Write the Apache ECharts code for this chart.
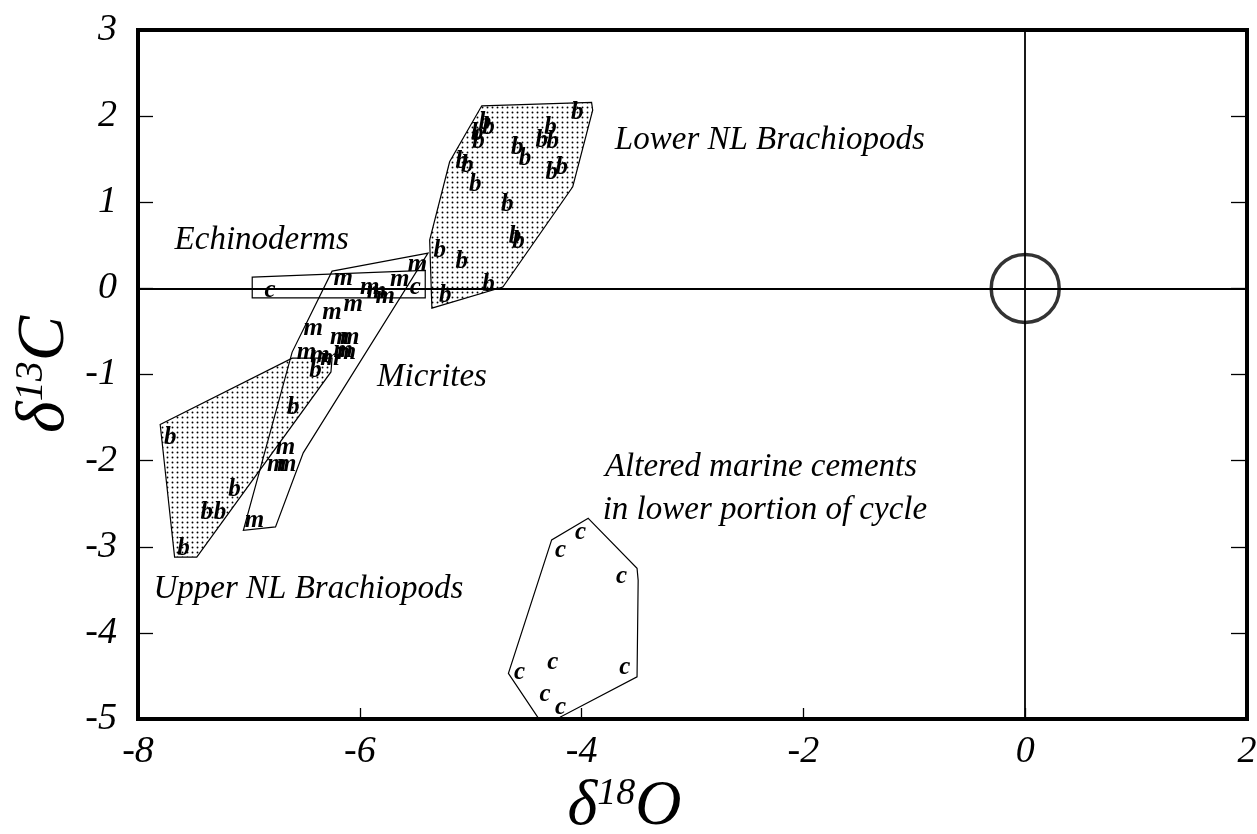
<!DOCTYPE html>
<html>
<head>
<meta charset="utf-8">
<script src="https://cdn.jsdelivr.net/npm/echarts@6/dist/echarts.min.js"></script>
<style>
html,body{margin:0;padding:0;background:#fff;}
#chart{width:1257px;height:834px;}
</style>
</head>
<body>
<div id="chart"></div>
<script>
// ---- axis ticks ----
const xTicks = [-8, -6, -4, -2, 0, 2];
const yTicks = [-5, -4, -3, -2, -1, 0, 1, 2, 3];

// ---- field polygons (δ18O, δ13C) ----
const upperBrachPoly = [[-7.80,-1.58],[-6.61,-0.81],[-6.25,-0.81],[-6.26,-0.97],[-7.47,-3.12],[-7.67,-3.12]];
const lowerBrachPoly = [[-4.90,2.12],[-3.91,2.16],[-3.90,2.07],[-4.08,1.18],[-4.71,0.015],[-5.35,-0.23],[-5.37,0.56],[-5.19,1.47]];
const micritePoly = [[-6.25,0.20],[-5.385,0.41],[-6.51,-1.91],[-6.76,-2.77],[-7.05,-2.81],[-6.61,-0.74]];
const echinoPoly = [[-6.97,0.13],[-5.41,0.21],[-5.41,-0.11],[-6.97,-0.11]];
const cementPoly = [[-3.94,-2.67],[-3.50,-3.25],[-3.49,-3.39],[-3.50,-4.51],[-4.195,-4.98],[-4.39,-4.99],[-4.66,-4.47],[-4.27,-2.92]];

// ---- samples (δ18O, δ13C) ----
const upperBrachPts = [[-7.71,-1.73],[-6.40,-0.95],[-6.60,-1.38],[-7.13,-2.34],[-7.38,-2.60],[-7.26,-2.60],[-7.59,-3.02]];
const lowerBrachPts = [[-4.04,2.04],[-4.28,1.87],[-4.36,1.72],[-4.26,1.70],[-4.58,1.63],[-4.51,1.51],[-4.27,1.34],[-4.18,1.40],
  [-4.87,1.92],[-4.84,1.87],[-4.94,1.80],[-4.93,1.70],[-5.08,1.47],[-5.03,1.43],[-4.96,1.20],[-4.67,0.97],[-4.60,0.60],
  [-4.57,0.54],[-5.28,0.44],[-5.08,0.31],[-4.84,0.04],[-5.23,-0.08]];
const micritePts = [[-6.15,0.11],[-5.48,0.28],[-5.64,0.10],[-5.91,0.01],[-5.85,-0.04],[-5.77,-0.09],[-6.06,-0.19],[-6.25,-0.28],
  [-6.42,-0.47],[-6.18,-0.57],[-6.09,-0.57],[-6.15,-0.72],[-6.48,-0.75],[-6.36,-0.78],[-6.27,-0.81],[-6.12,-0.74],
  [-6.67,-1.85],[-6.75,-2.05],[-6.66,-2.05],[-6.95,-2.69]];
const echinoPts = [[-6.81,-0.02],[-5.50,0.01]];
const cementPts = [[-4.01,-2.84],[-4.19,-3.04],[-3.64,-3.35],[-4.26,-4.34],[-4.56,-4.46],[-3.61,-4.40],[-4.33,-4.72],[-4.19,-4.87]];
const standardPt = [[0, 0]];

// ---- annotations ----
const noteTexts = ['Lower NL Brachiopods','Echinoderms','Micrites','Altered marine cements','in lower portion of cycle','Upper NL Brachiopods'];
const notePos = [[-3.70,1.72],[-7.67,0.56],[-5.845,-1.03],[-3.79,-2.08],[-3.81,-2.575],[-7.86,-3.50]];

const FONT = '"Liberation Serif","Times New Roman",serif';

const cv = document.createElement('canvas');
cv.width = 5; cv.height = 5;
const cx = cv.getContext('2d');
cx.fillStyle = '#000';
cx.beginPath(); cx.arc(2.5, 2.5, 0.95, 0, Math.PI * 2); cx.fill();
const dots = { image: cv, repeat: 'repeat' };

function polySeries(data, fill) {
  return {
    type: 'custom', data: data, clip: true, silent: true, z: 2,
    renderItem: function (params, api) {
      if (params.dataIndexInside !== 0) return null;
      const pts = [];
      for (let i = 0; i < params.dataInsideLength; i++) {
        pts.push(api.coord([api.value(0, i), api.value(1, i)]));
      }
      return { type: 'polygon', shape: { points: pts },
        style: { fill: fill || 'none', stroke: '#000', lineWidth: 1.2 } };
    }
  };
}
function letterSeries(data, letter) {
  return {
    type: 'custom', data: data, clip: true, silent: true, z: 5,
    renderItem: function (params, api) {
      const p = api.coord([api.value(0), api.value(1)]);
      return { type: 'text', x: p[0], y: p[1],
        style: { text: letter, fill: '#000', align: 'center', verticalAlign: 'middle',
          font: 'italic bold 25px ' + FONT } };
    }
  };
}

const labelStyle = { color: '#000', fontFamily: FONT, fontStyle: 'italic', fontSize: 38 };

const option = {
  animation: false,
  backgroundColor: '#fff',
  grid: { left: 138, right: 10, top: 30, bottom: 115, outerBoundsMode: 'none', containLabel: false,
    show: true, borderColor: '#000', borderWidth: 4, backgroundColor: 'transparent' },
  xAxis: {
    type: 'value', min: xTicks[0], max: xTicks[xTicks.length - 1], interval: 2,
    axisLine: { show: false, onZero: false },
    axisTick: { show: true, inside: true, length: 11, lineStyle: { color: '#000', width: 1.3 } },
    splitLine: { show: false },
    axisLabel: Object.assign({ margin: 14 }, labelStyle),
    name: 'δ{s|18}O', nameLocation: 'middle', nameGap: 56, nameMoveOverlap: false,
    nameTextStyle: { color: '#000', fontFamily: FONT, fontStyle: 'italic', fontSize: 64, padding: [0, 136, 0, 0],
      rich: { s: { fontFamily: FONT, fontStyle: 'italic', fontSize: 38, verticalAlign: 'top', padding: [0, 0, 26, 0] } } }
  },
  yAxis: [{
    type: 'value', min: yTicks[0], max: yTicks[yTicks.length - 1], interval: 1,
    axisLine: { show: false, onZero: false },
    axisTick: { show: true, inside: true, length: 15, lineStyle: { color: '#000', width: 1.3 } },
    splitLine: { show: false },
    axisLabel: Object.assign({ margin: 21 }, labelStyle),
    name: 'δ{s|13}C', nameLocation: 'middle', nameGap: 59, nameMoveOverlap: false,
    nameTextStyle: { color: '#000', fontFamily: FONT, fontStyle: 'italic', fontSize: 68,
      rich: { s: { fontFamily: FONT, fontStyle: 'italic', fontSize: 40, verticalAlign: 'top', padding: [0, 0, 28, 0] } } }
  }, {
    type: 'value', position: 'right', min: yTicks[0], max: yTicks[yTicks.length - 1], interval: 1,
    axisLine: { show: false, onZero: false },
    axisTick: { show: true, inside: true, length: 16, lineStyle: { color: '#000', width: 1.3 } },
    splitLine: { show: false }, axisLabel: { show: false }
  }],
  series: [
    polySeries(upperBrachPoly, dots),
    polySeries(lowerBrachPoly, dots),
    polySeries(micritePoly, null),
    polySeries(echinoPoly, null),
    polySeries(cementPoly, null),
    letterSeries(upperBrachPts, 'b'),
    letterSeries(lowerBrachPts, 'b'),
    letterSeries(micritePts, 'm'),
    letterSeries(echinoPts, 'c'),
    letterSeries(cementPts, 'c'),
    {
      type: 'scatter', data: standardPt, symbol: 'circle', symbolSize: 68, silent: true, z: 4,
      itemStyle: { color: 'rgba(0,0,0,0)', borderColor: '#000', borderWidth: 3.5 },
      markLine: { silent: true, symbol: 'none', animation: false,
        label: { show: false },
        lineStyle: { color: '#000', width: 1.8, type: 'solid' },
        data: [{ yAxis: 0 }, { xAxis: 0 }] }
    },
    {
      type: 'custom', silent: true, z: 6,
      data: notePos.map((p, i) => [p[0], p[1], i]),
      renderItem: function (params, api) {
        const p = api.coord([api.value(0), api.value(1)]);
        return { type: 'text', x: p[0], y: p[1],
          style: { text: noteTexts[api.value(2)], fill: '#000', align: 'left', verticalAlign: 'middle',
            font: 'italic 33px ' + FONT } };
      }
    }
  ]
};
const chart = echarts.init(document.getElementById('chart'));
chart.setOption(option);
</script>
</body>
</html>
